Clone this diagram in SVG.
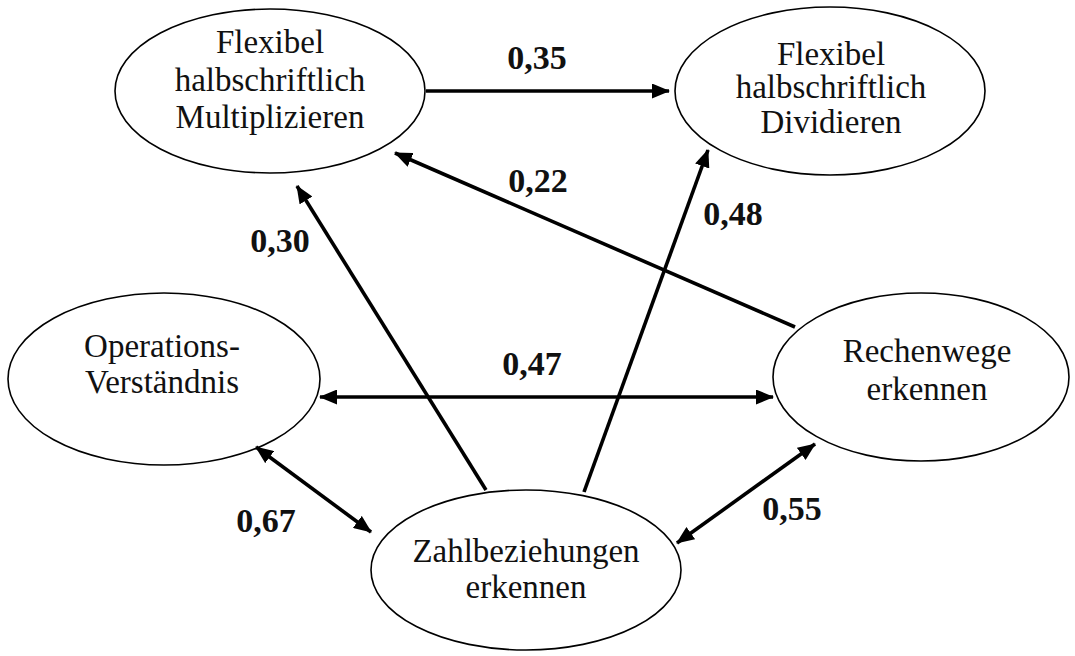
<svg xmlns="http://www.w3.org/2000/svg" width="1075" height="656" viewBox="0 0 1075 656">
<style>
.node ellipse{fill:#fff;stroke:#000;stroke-width:1.6}
.node text{font-family:"Liberation Serif","Times New Roman",serif;font-size:33px;fill:#111;text-anchor:middle}
.edge{stroke:#000;stroke-width:3.6;fill:none}
.lbl{font-family:"Liberation Serif","Times New Roman",serif;font-size:34px;font-weight:bold;fill:#111;text-anchor:middle}
</style>
<defs>
<marker id="ah" markerUnits="userSpaceOnUse" markerWidth="18" markerHeight="15" refX="17" refY="7.5" orient="auto-start-reverse" viewBox="0 0 18 15">
<path d="M0,0 L18,7.5 L0,15 Z" fill="#000"/>
</marker>
</defs>
<rect width="1075" height="656" fill="#fff"/>
<g id="n-mult" class="node">
<ellipse cx="270" cy="91" rx="155" ry="82"/>
<text x="270" y="53">Flexibel</text>
<text x="270" y="91">halbschriftlich</text>
<text x="270" y="128">Multiplizieren</text>
</g>
<g id="n-div" class="node">
<ellipse cx="830" cy="91" rx="155" ry="84"/>
<text x="831" y="65">Flexibel</text>
<text x="831" y="98">halbschriftlich</text>
<text x="831" y="133">Dividieren</text>
</g>
<g id="n-op" class="node">
<ellipse cx="164" cy="379" rx="156" ry="86"/>
<text x="162" y="357">Operations-</text>
<text x="162" y="393">Verständnis</text>
</g>
<g id="n-rech" class="node">
<ellipse cx="921" cy="377" rx="148" ry="84"/>
<text x="927" y="362">Rechenwege</text>
<text x="927" y="400">erkennen</text>
</g>
<g id="n-zahl" class="node">
<ellipse cx="526" cy="570" rx="155" ry="80"/>
<text x="526" y="562">Zahlbeziehungen</text>
<text x="526" y="598">erkennen</text>
</g>
<g id="connectors">
<line class="edge" x1="426" y1="91" x2="669" y2="91" marker-end="url(#ah)"/>
<line class="edge" x1="795" y1="327" x2="395" y2="153" marker-end="url(#ah)"/>
<line class="edge" x1="584" y1="492" x2="708" y2="150" marker-end="url(#ah)"/>
<line class="edge" x1="486" y1="490" x2="297" y2="186" marker-end="url(#ah)"/>
<line class="edge" x1="320" y1="397" x2="773" y2="397" marker-start="url(#ah)" marker-end="url(#ah)"/>
<line class="edge" x1="256" y1="447" x2="371" y2="532" marker-start="url(#ah)" marker-end="url(#ah)"/>
<line class="edge" x1="677" y1="543" x2="815" y2="444" marker-start="url(#ah)" marker-end="url(#ah)"/>
<text class="lbl" x="537" y="69">0,35</text>
<text class="lbl" x="538" y="192">0,22</text>
<text class="lbl" x="733" y="225">0,48</text>
<text class="lbl" x="280" y="252">0,30</text>
<text class="lbl" x="532" y="375">0,47</text>
<text class="lbl" x="266" y="532">0,67</text>
<text class="lbl" x="792" y="520">0,55</text>
</g>
</svg>
